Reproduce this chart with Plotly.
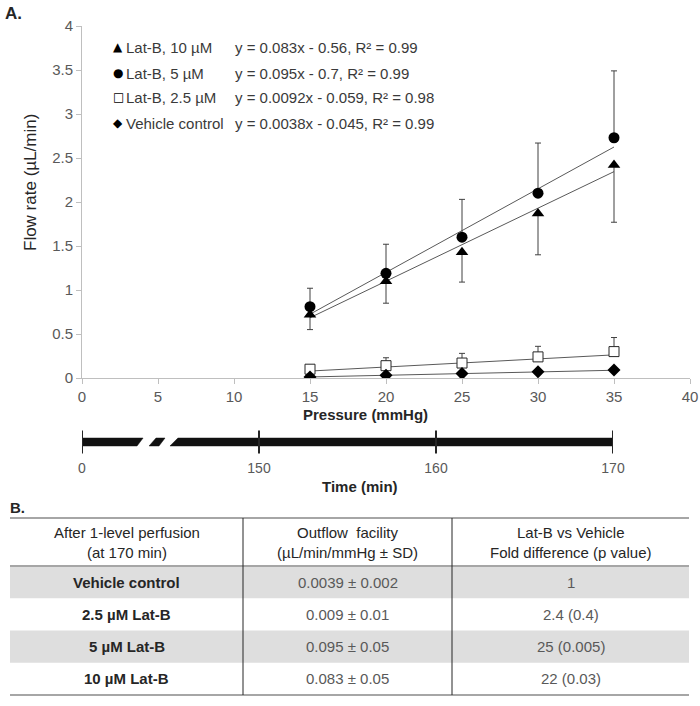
import plotly.graph_objects as go

# ── Data ─────────────────────────────────────────────────────────────────────
pressure = [15, 20, 25, 30, 35]

latb10 = [0.72, 1.10, 1.43, 1.87, 2.42]
latb10_err = [0.17, 0.25, 0.34, 0.47, 0.65]          # drawn downwards
latb5 = [0.81, 1.19, 1.60, 2.10, 2.73]
latb5_err = [0.21, 0.33, 0.43, 0.57, 0.76]           # drawn upwards
latb25 = [0.10, 0.14, 0.17, 0.24, 0.30]
latb25_err = [0.04, 0.09, 0.11, 0.12, 0.16]
vehicle = [0.01, 0.03, 0.05, 0.07, 0.09]

series_names = ["Lat-B, 10 µM", "Lat-B, 5 µM", "Lat-B, 2.5 µM", "Vehicle control"]
fit_slope = [0.083, 0.095, 0.0092, 0.0038]
fit_intercept = [-0.56, -0.7, -0.059, -0.045]
fit_r2 = [0.99, 0.99, 0.98, 0.99]
fit_range = [15, 35]

time_ticks = ["0", "150", "160", "170"]

table_header = ["After 1-level perfusion<br>(at 170 min)",
                "Outflow  facility<br>(µL/min/mmHg ± SD)",
                "Lat-B vs Vehicle<br>Fold difference (p value)"]
table_group = ["Vehicle control", "2.5 µM Lat-B", "5 µM Lat-B", "10 µM Lat-B"]
table_facility = ["0.0039 ± 0.002", "0.009 ± 0.01", "0.095 ± 0.05", "0.083 ± 0.05"]
table_fold = ["1", "2.4 (0.4)", "25 (0.005)", "22 (0.03)"]

# ── Style ────────────────────────────────────────────────────────────────────
W, H = 700, 706
FONT = "Liberation Sans, Arial, sans-serif"
NARROW = "Liberation Sans Narrow, Arial Narrow, Liberation Sans, sans-serif"
DARK = "#262626"
TXT = "#3a3a3a"
TICK = "#595959"
AXIS = "#bfbfbf"
ROW_GRAY = "#dedede"


def px(x):
    return x / W


def py(y):
    return 1 - y / H


fig = go.Figure()

# trend lines
for a, b in zip(fit_slope, fit_intercept):
    fig.add_trace(go.Scatter(
        x=fit_range, y=[a * x + b for x in fit_range], mode="lines",
        line=dict(color="#595959", width=1), hoverinfo="skip", showlegend=False,
    ))

err_style = dict(color="#404040", thickness=1, width=3)
fig.add_trace(go.Scatter(
    x=pressure, y=latb10, mode="markers", name=series_names[0],
    marker=dict(symbol="triangle-up", size=11, color="black"),
    error_y=dict(type="data", symmetric=False, array=[0] * 5, arrayminus=latb10_err, **err_style),
))
fig.add_trace(go.Scatter(
    x=pressure, y=latb5, mode="markers", name=series_names[1],
    marker=dict(symbol="circle", size=11, color="black"),
    error_y=dict(type="data", symmetric=False, array=latb5_err, arrayminus=[0] * 5, **err_style),
))
fig.add_trace(go.Scatter(
    x=pressure, y=latb25, mode="markers", name=series_names[2],
    marker=dict(symbol="square", size=10, color="white", line=dict(color=DARK, width=1)),
    error_y=dict(type="data", symmetric=False, array=latb25_err, arrayminus=[0] * 5, **err_style),
))
fig.add_trace(go.Scatter(
    x=pressure, y=vehicle, mode="markers", name=series_names[3],
    marker=dict(symbol="diamond", size=10, color="black"),
))

# ── Time bar (broken axis) ───────────────────────────────────────────────────
t_pos = list(range(len(time_ticks)))
b = 0.33
bx, by = [], []
polys = [
    [(t_pos[0], -b), (0.311, -b), (0.345, b), (t_pos[0], b)],
    [(0.379, -b), (0.435, -b), (0.469, b), (0.418, b)],
    [(0.497, -b), (t_pos[-1], -b), (t_pos[-1], b), (0.542, b)],
]
for poly in polys:
    for x, y in poly + [poly[0]]:
        bx.append(x)
        by.append(y)
    bx.append(None)
    by.append(None)
fig.add_trace(go.Scatter(
    x=bx, y=by, mode="lines", fill="toself", fillcolor="#111111",
    line=dict(color="#111111", width=0.5), xaxis="x2", yaxis="y2",
    hoverinfo="skip", showlegend=False,
))
tx, ty = [], []
for p in t_pos:
    tx += [p, p, None]
    ty += [-0.95, 0.95, None]
fig.add_trace(go.Scatter(
    x=tx, y=ty, mode="lines", line=dict(color=DARK, width=2),
    xaxis="x2", yaxis="y2", hoverinfo="skip", showlegend=False,
))

# ── Table (shapes + text) ────────────────────────────────────────────────────
TBL_L, TBL_R = 10, 689
TBL_TOP, HDR_BOT, ROW_H = 518, 566, 32.25
col_edges = [TBL_L, 243, 452, TBL_R]
col_mid = [(col_edges[i] + col_edges[i + 1]) / 2 for i in range(3)]
tbl_bot = HDR_BOT + ROW_H * len(table_group)

shapes = []
for i in range(len(table_group)):
    if i % 2 == 0:
        shapes.append(dict(type="rect", xref="paper", yref="paper", layer="below",
                           x0=px(TBL_L), x1=px(TBL_R),
                           y0=py(HDR_BOT + ROW_H * i), y1=py(HDR_BOT + ROW_H * (i + 1)),
                           fillcolor=ROW_GRAY, line=dict(width=0)))
for yy in (TBL_TOP, HDR_BOT, tbl_bot):
    shapes.append(dict(type="line", xref="paper", yref="paper", layer="above",
                       x0=px(TBL_L), x1=px(TBL_R), y0=py(yy), y1=py(yy),
                       line=dict(color="#a6a6a6", width=2)))
for xx in col_edges[1:3]:
    shapes.append(dict(type="line", xref="paper", yref="paper", layer="above",
                       x0=px(xx), x1=px(xx), y0=py(TBL_TOP), y1=py(tbl_bot),
                       line=dict(color=DARK, width=1)))

ann = []
for j, h in enumerate(table_header):
    ann.append(dict(x=px(col_mid[j]), y=py((TBL_TOP + HDR_BOT) / 2), text=h, align="center",
                    font=dict(family=FONT, size=15, color=DARK)))
for i in range(len(table_group)):
    yc = py(HDR_BOT + ROW_H * (i + 0.5))
    ann.append(dict(x=px(col_mid[0]), y=yc, text="<b>%s</b>" % table_group[i],
                    font=dict(family=FONT, size=15, color=DARK)))
    ann.append(dict(x=px(col_mid[1]), y=yc, text=table_facility[i],
                    font=dict(family=FONT, size=15, color=TICK)))
    ann.append(dict(x=px(col_mid[2]), y=yc, text=table_fold[i],
                    font=dict(family=FONT, size=15, color=TICK)))

# ── Legend-style labels ──────────────────────────────────────────────────────
symbols = ["▲", "●", "□", "◆"]
row_y = [47, 73, 97, 123]
for i, name in enumerate(series_names):
    sign = "-" if fit_intercept[i] < 0 else "+"
    eq = "y = %gx %s %g, R² = %g" % (fit_slope[i], sign, abs(fit_intercept[i]), fit_r2[i])
    ann.append(dict(x=px(118), y=py(row_y[i]), text=symbols[i],
                    font=dict(family="DejaVu Sans", size=12, color="black")))
    ann.append(dict(x=px(124), y=py(row_y[i]), text=name, xanchor="left",
                    font=dict(family=FONT, size=15, color=TXT)))
    ann.append(dict(x=px(233), y=py(row_y[i]), text=eq, xanchor="left",
                    font=dict(family=FONT, size=15, color=TXT)))

ann += [
    dict(x=px(3), y=py(13), text="<b>A.</b>", xanchor="left",
         font=dict(family=FONT, size=17, color=DARK)),
    dict(x=px(8), y=py(507), text="<b>B.</b>", xanchor="left",
         font=dict(family=FONT, size=15, color=DARK)),
    dict(x=px(30), y=py(183), text="Flow rate (µL/min)", textangle=-90,
         font=dict(family=FONT, size=17, color=DARK)),
    dict(x=px(365), y=py(414), text="<b>Pressure (mmHg)</b>",
         font=dict(family=FONT, size=15, color=DARK)),
    dict(x=px(360), y=py(486), text="<b>Time (min)</b>",
         font=dict(family=FONT, size=15, color=DARK)),
]
for a in ann:
    a.setdefault("showarrow", False)
    a.setdefault("xanchor", "center")
    a.setdefault("yanchor", "middle")
    a["xref"] = "paper"
    a["yref"] = "paper"

axis_style = dict(showline=True, linecolor=AXIS, linewidth=1, ticks="outside", ticklen=5,
                  tickcolor=AXIS, showgrid=False, zeroline=False, automargin=False,
                  tickfont=dict(family=FONT, size=15, color=TICK))

fig.update_layout(
    template="none",
    width=W, height=H, autosize=False,
    margin=dict(l=0, r=0, t=0, b=0, pad=0, autoexpand=False),
    paper_bgcolor="white", plot_bgcolor="white",
    showlegend=False,
    font=dict(family=FONT, color=TXT),
    xaxis=dict(domain=[px(82), px(690)], range=[0, 40], dtick=5, anchor="y", **axis_style),
    yaxis=dict(domain=[py(378), py(26)], range=[0, 4], dtick=0.5, anchor="x", **axis_style),
    xaxis2=dict(domain=[px(82), px(613)], range=[t_pos[0], t_pos[-1]], anchor="y2",
                tickvals=t_pos, ticktext=time_ticks, showline=False, showgrid=False,
                zeroline=False, ticks="outside", ticklen=1, tickcolor="rgba(0,0,0,0)",
                automargin=False, tickfont=dict(family=NARROW, size=14, color=TICK)),
    yaxis2=dict(domain=[py(454), py(430)], range=[-1, 1], anchor="x2", visible=False),
    shapes=shapes,
    annotations=ann,
)

fig.write_html("out.html", config={"displayModeBar": False},
               post_script="document.body.style.margin='0';")
